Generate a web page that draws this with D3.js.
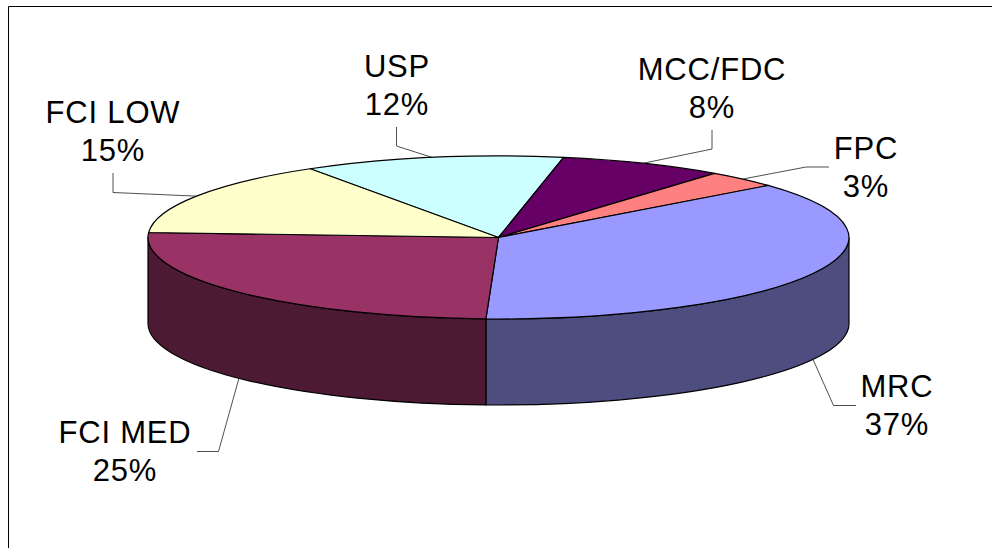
<!DOCTYPE html>
<html>
<head>
<meta charset="utf-8">
<script src="https://cdn.jsdelivr.net/npm/d3@7/dist/d3.min.js"></script>
<style>
html,body{margin:0;padding:0;background:#fff;overflow:hidden}
svg{display:block}
text{font-family:"Liberation Sans",Arial,sans-serif;font-size:31px;fill:#000;text-anchor:middle;letter-spacing:.8px;font-kerning:none}
</style>
</head>
<body>
<svg id="c" width="992" height="548"></svg>
<script>
// Data
const categories = ["USP","MCC/FDC","FPC","MRC","FCI MED","FCI LOW"];
const values = [12, 7.6, 3.4, 36.6, 25.4, 15];
const topColors = ["#CCFFFF","#660066","#FF8080","#9999FF","#993366","#FFFFCC"];
const sideColors = ["#668080","#330033","#804040","#4D4D80","#4D1A33","#808066"];

// Layout
const W = 992, H = 548;
const cx = 498.5, cy = 237.5, rx = 350.5, ry = 81.5, depth = 86;
const labelLayout = {
  "USP":     {x:397, y:77,  hook:[[396.5,127],[396.5,146]]},
  "MCC/FDC": {x:712, y:80,  hook:[[712,130],[712,149]]},
  "FPC":     {x:866, y:159, hook:[[829,167],[806,167]]},
  "MRC":     {x:897, y:397, hook:[[856,405.5],[833.5,405.5]]},
  "FCI MED": {x:125, y:443, hook:[[197,451.5],[218.5,451.5]]},
  "FCI LOW": {x:113, y:123, hook:[[113,173],[113,192.5]]}
};

const svg = d3.select("#c");
svg.append("rect").attr("width",W).attr("height",H).attr("fill","#fff");
svg.append("path")
  .attr("d",`M8.5,${H+2}V6.5H${W+2}`)
  .attr("fill","none").attr("stroke","#000").attr("stroke-width",1);

const pieLayout = d3.pie().sort(null)
  .startAngle(-32.5*Math.PI/180)
  .endAngle((360-32.5)*Math.PI/180);
const arcs = pieLayout(values).map((d,i)=>({...d,name:categories[i],i}));

const X = d3.scaleLinear().domain([-1,1]).range([cx-rx,cx+rx]);
const Y = d3.scaleLinear().domain([-1,1]).range([cy-ry,cy+ry]);
const px = a => X(Math.sin(a));
const py = a => Y(-Math.cos(a));
const large = (a0,a1)=> (a1-a0)>Math.PI?1:0;

// side walls: the visible front part of the rim
const wall = d=>{
  const a0 = Math.max(d.startAngle,Math.PI/2), a1 = Math.min(d.endAngle,3*Math.PI/2);
  if(a1<=a0) return null;
  return `M${px(a0)},${py(a0)}`+
    `A${rx},${ry} 0 ${large(a0,a1)} 1 ${px(a1)},${py(a1)}`+
    `L${px(a1)},${py(a1)+depth}`+
    `A${rx},${ry} 0 ${large(a0,a1)} 0 ${px(a0)},${py(a0)+depth}Z`;
};
svg.append("g").selectAll("path").data(arcs.filter(wall)).join("path")
  .attr("d",wall).attr("fill",d=>sideColors[d.i])
  .attr("stroke","#000").attr("stroke-width",1.2).attr("stroke-linejoin","round");

// top face
const topPath = d=>`M${cx},${cy}L${px(d.startAngle)},${py(d.startAngle)}`+
  `A${rx},${ry} 0 ${large(d.startAngle,d.endAngle)} 1 ${px(d.endAngle)},${py(d.endAngle)}Z`;
svg.append("g").selectAll("path").data(arcs).join("path")
  .attr("d",topPath).attr("fill",d=>topColors[d.i])
  .attr("stroke","#000").attr("stroke-width",1.2).attr("stroke-linejoin","round");

// leader lines end on the outer rim at each slice's middle angle
const leader = d=>{
  const m=(d.startAngle+d.endAngle)/2, front=Math.cos(m)<0;
  const h=labelLayout[d.name].hook;
  return d3.line()([h[0],h[1],[px(m),py(m)+(front?depth:0)]]);
};
svg.append("g").selectAll("path").data(arcs).join("path")
  .attr("d",leader).attr("fill","none").attr("stroke","#222").attr("stroke-width",.8);

// labels
const lab = svg.append("g").selectAll("g").data(arcs).join("g");
lab.append("text").attr("x",d=>labelLayout[d.name].x).attr("y",d=>labelLayout[d.name].y).text(d=>d.name);
lab.append("text").attr("x",d=>labelLayout[d.name].x).attr("y",d=>labelLayout[d.name].y+38)
  .text(d=>Math.round(d.value)+"%");
</script>
</body>
</html>
